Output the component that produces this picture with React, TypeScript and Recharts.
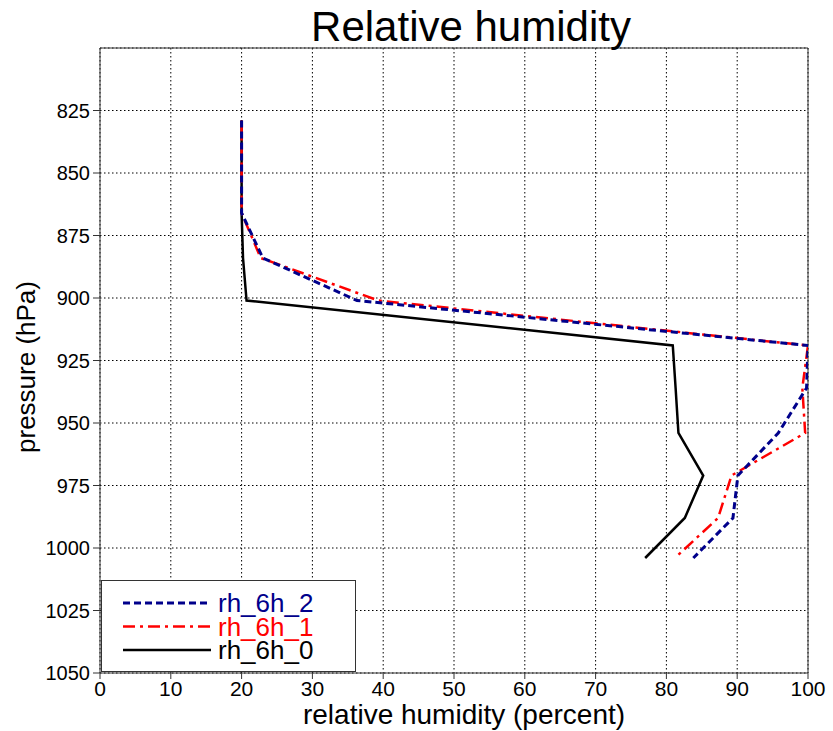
import { LineChart, Line, XAxis, YAxis, CartesianGrid, ReferenceLine } from "recharts";

// pressure levels (hPa) and relative humidity (%) per run
const LEVELS = [829, 847, 866, 884, 901, 919, 936, 954, 971, 988, 1004];
const RH_6H_2 = [20, 20, 20, 23, 36.3, 100, 99.8, 95.8, 90.1, 89.4, 83.8];
const RH_6H_1 = [20, 20, 20, 22.7, 39.3, 100, 99.2, 99.6, 89.2, 87.3, 81.2];
const RH_6H_0 = [20, 20, 20, 20.2, 20.7, 80.9, 81.3, 81.7, 85.2, 82.6, 77];

const X_TICKS = [0, 10, 20, 30, 40, 50, 60, 70, 80, 90, 100];
const Y_TICKS = [825, 850, 875, 900, 925, 950, 975, 1000, 1025, 1050];

const FONT = "'Liberation Sans', Arial, sans-serif";

// drawing order: black at the bottom, blue on top
const SERIES = [
  { key: "rh_6h_0", values: RH_6H_0, color: "#000000", dash: undefined, width: 2.5 },
  { key: "rh_6h_1", values: RH_6H_1, color: "#ff0000", dash: "12 5 3 5", width: 2.5 },
  { key: "rh_6h_2", values: RH_6H_2, color: "#00008b", dash: "7 4", width: 3 },
];
const LEGEND_ORDER = ["rh_6h_2", "rh_6h_1", "rh_6h_0"];

const data = LEVELS.map((p, i) => {
  const row: any = { p };
  SERIES.forEach((s) => (row[s.key] = s.values[i]));
  return row;
});

export default function App() {
  return (
    <div style={{ position: "absolute", left: 0, top: 0, width: 833, height: 731, background: "#fff" }}>
      <LineChart
        width={833}
        height={731}
        data={data}
        layout="vertical"
        margin={{ top: 48, right: 25, bottom: 18, left: 40 }}
      >
        <CartesianGrid stroke="#000" strokeDasharray="1.5 2.5" />
        <XAxis
          type="number"
          domain={[0, 100]}
          ticks={X_TICKS}
          interval={0}
          height={40}
          tickSize={6}
          tickMargin={2}
          stroke="#333"
          tick={{ fill: "#000", fontSize: 21, fontFamily: FONT }}
          allowDataOverflow
        />
        <YAxis
          type="number"
          dataKey="p"
          domain={[800, 1050]}
          ticks={Y_TICKS}
          interval={0}
          width={60}
          tickSize={7}
          tickMargin={3}
          stroke="#333"
          tick={{ fill: "#000", fontSize: 20, fontFamily: FONT }}
          allowDataOverflow
        />
        <ReferenceLine y={800} stroke="#333" />
        <ReferenceLine x={100} stroke="#333" />
        {SERIES.map((s) => (
          <Line
            key={s.key}
            dataKey={s.key}
            stroke={s.color}
            strokeWidth={s.width}
            strokeDasharray={s.dash}
            dot={false}
            activeDot={false}
            isAnimationActive={false}
          />
        ))}
      </LineChart>

      {/* title and axis labels */}
      <svg
        width={833}
        height={731}
        style={{ position: "absolute", left: 0, top: 0, pointerEvents: "none" }}
        fontFamily={FONT}
      >
        <text x={471} y={41} fontSize={42} textAnchor="middle" fill="#000">
          Relative humidity
        </text>
        <text x={464} y={724} fontSize={28} textAnchor="middle" fill="#000">
          relative humidity (percent)
        </text>
        <text
          x={0}
          y={0}
          fontSize={26}
          textAnchor="middle"
          fill="#000"
          transform="translate(35 367) rotate(-90)"
        >
          pressure (hPa)
        </text>
      </svg>

      {/* legend box */}
      <div
        style={{
          position: "absolute",
          left: 101,
          top: 580,
          width: 255,
          height: 92,
          border: "1px solid #333",
          background: "#fff",
          boxSizing: "border-box",
        }}
      >
        <svg width={253} height={90} fontFamily={FONT}>
          {LEGEND_ORDER.map((k, i) => {
            const s = SERIES.find((x) => x.key === k)!;
            const y = 22 + i * 23.5;
            return (
              <g key={k}>
                <line
                  x1={21}
                  x2={109}
                  y1={y}
                  y2={y}
                  stroke={s.color}
                  strokeWidth={s.width}
                  strokeDasharray={s.dash}
                />
                <text x={116} y={y + 9} fontSize={26} fill={s.color}>
                  {k}
                </text>
              </g>
            );
          })}
        </svg>
      </div>
    </div>
  );
}
